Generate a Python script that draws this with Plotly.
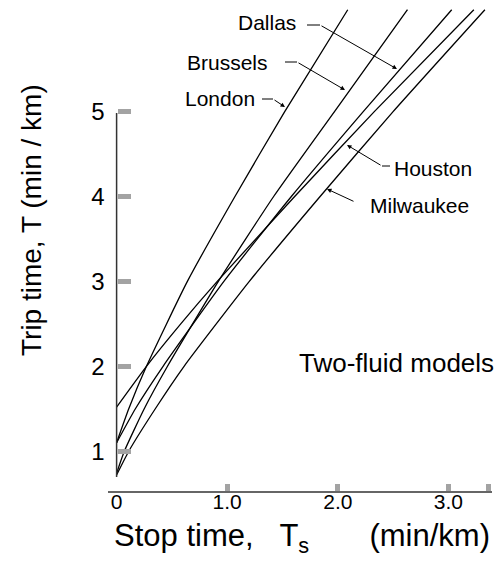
import plotly.graph_objects as go

# ---------------- data ----------------
cities = ["London", "Brussels", "Dallas", "Houston", "Milwaukee"]

london_ts = [0.0, 0.11, 0.27, 0.64, 1.07, 1.52, 2.09]
london_t = [1.10, 1.5, 2.0, 3.0, 4.0, 5.0, 6.2]

brussels_ts = [0.0, 0.07, 0.25, 0.46, 0.92, 1.42, 1.97, 2.63]
brussels_t = [0.74, 1.0, 1.5, 2.0, 3.0, 4.0, 5.0, 6.2]

dallas_ts = [0.0, 0.17, 0.42, 0.97, 1.58, 2.23, 3.03]
dallas_t = [1.10, 1.5, 2.0, 3.0, 4.0, 5.0, 6.2]

houston_ts = [0.0, 0.27, 0.58, 0.91, 1.61, 2.33, 3.23]
houston_t = [1.52, 2.0, 2.5, 3.0, 4.0, 5.0, 6.2]

milwaukee_ts = [0.0, 0.11, 0.35, 0.61, 1.20, 1.84, 2.50, 3.33]
milwaukee_t = [0.72, 1.0, 1.5, 2.0, 3.0, 4.0, 5.0, 6.2]

x_tickvals = [0, 1, 2, 3]
x_ticktext = ["0", "1.0", "2.0", "3.0"]
y_tickvals = [1, 2, 3, 4, 5]
y_ticktext = ["1", "2", "3", "4", "5"]

series_ts = [london_ts, brussels_ts, dallas_ts, houston_ts, milwaukee_ts]
series_t = [london_t, brussels_t, dallas_t, houston_t, milwaukee_t]

# ---------------- layout geometry ----------------
W, H = 497, 562
ML, MR, MT, MB = 108, 5, 5, 70
PW, PH = W - ML - MR, H - MT - MB
X0PX, XPU = 116.6, 110.6      # pixel of Ts=0, px per unit
Y3PX, YPU = 281.4, 84.9       # pixel of T=3, px per unit


def ts_at(px):
    return (px - X0PX) / XPU


def t_at(py):
    return 3 + (Y3PX - py) / YPU


def paper_x(px):
    return (px - ML) / PW


def paper_y(py):
    return (MT + PH - py) / PH


FONT = "Liberation Sans, Arial, Helvetica, sans-serif"
SQUARE = "#a3a3a3"

fig = go.Figure()
for name, ts, t in zip(cities, series_ts, series_t):
    fig.add_trace(go.Scatter(
        x=ts, y=t, mode="lines", name=name, showlegend=False,
        line=dict(color="black", width=1.3, shape="spline", smoothing=0.5),
    ))

# y axis line (shorter than the data area, as in the original)
shapes = [dict(type="line", xref="x", yref="y", x0=0, x1=0,
               y0=t_at(477), y1=t_at(113),
               line=dict(color="#333333", width=1.5))]

# leader lines: horizontal dash + diagonal arrow
leaders = [
    ((262, 99), (273, 99), (285, 107)),
    ((285, 62), (297, 62), (345, 90)),
    ((307, 25), (320, 25), (397, 69)),
    ((390, 166), (382, 166), (347, 145)),
    (None, (355, 202), (327, 189)),
]
annotations = []
for dash0, tail, tip in leaders:
    if dash0 is not None:
        shapes.append(dict(type="line", xref="paper", yref="paper",
                           x0=paper_x(dash0[0]), y0=paper_y(dash0[1]),
                           x1=paper_x(tail[0]), y1=paper_y(tail[1]),
                           line=dict(color="black", width=1)))
    annotations.append(dict(
        xref="paper", yref="paper", x=paper_x(tip[0]), y=paper_y(tip[1]),
        ax=tail[0] - tip[0], ay=tail[1] - tip[1], text="", showarrow=True,
        arrowhead=2, arrowsize=0.9, arrowwidth=1, arrowcolor="black",
        standoff=0, startstandoff=0))

labels = [
    ("Dallas", 267, 22), ("Brussels", 227.5, 62), ("London", 220, 99),
    ("Houston", 433, 168), ("Milwaukee", 419, 205),
]
for txt, px, py in labels:
    annotations.append(dict(xref="paper", yref="paper", x=paper_x(px), y=paper_y(py),
                            text=txt, showarrow=False, xanchor="center", yanchor="middle",
                            font=dict(family=FONT, size=21, color="black")))

annotations.append(dict(xref="paper", yref="paper", x=paper_x(396), y=paper_y(363),
                        text="Two-fluid models", showarrow=False,
                        xanchor="center", yanchor="middle",
                        font=dict(family=FONT, size=26, color="black")))

# axis titles
annotations.append(dict(xref="paper", yref="paper", x=paper_x(31), y=paper_y(220),
                        text="Trip time, T (min / km)", showarrow=False, textangle=-90,
                        xanchor="center", yanchor="middle",
                        font=dict(family=FONT, size=28, color="black")))
nb = "\u00a0"
annotations.append(dict(xref="paper", yref="paper", x=paper_x(302), y=paper_y(538),
                        text="Stop time," + nb * 3 + "T<sub>s</sub>" + nb * 7 + "(min/km)",
                        showarrow=False, xanchor="center", yanchor="middle",
                        font=dict(family=FONT, size=31, color="black")))

fig.update_layout(
    width=W, height=H,
    margin=dict(l=ML, r=MR, t=MT, b=MB),
    plot_bgcolor="white", paper_bgcolor="white",
    showlegend=False,
    xaxis=dict(
        range=[ts_at(ML), ts_at(ML + PW)], anchor="free", position=0,
        showline=True, linecolor="#666666", linewidth=1.5,
        showgrid=False, zeroline=False,
        tickmode="array", tickvals=x_tickvals, ticktext=x_ticktext, ticks="",
        tickfont=dict(family=FONT, size=21, color="black"),
        ticklabelstandoff=-9,
        minor=dict(tickmode="array", tickvals=[1, 2, 3, 3.36], ticks="inside",
                   ticklen=7, tickwidth=5, tickcolor=SQUARE),
    ),
    yaxis=dict(
        domain=[paper_y(477), 1], range=[t_at(477), t_at(MT)],
        anchor="free", position=paper_x(X0PX),
        showline=False, showgrid=False, zeroline=False,
        tickmode="array", tickvals=y_tickvals, ticktext=y_ticktext,
        ticks="inside", ticklen=13, tickwidth=5, tickcolor=SQUARE,
        tickfont=dict(family=FONT, size=24, color="black"),
        ticklabelstandoff=12,
    ),
    shapes=shapes,
    annotations=annotations,
)

fig.write_html("out.html", config={"displayModeBar": False},
               post_script="document.body.style.margin='0';")
